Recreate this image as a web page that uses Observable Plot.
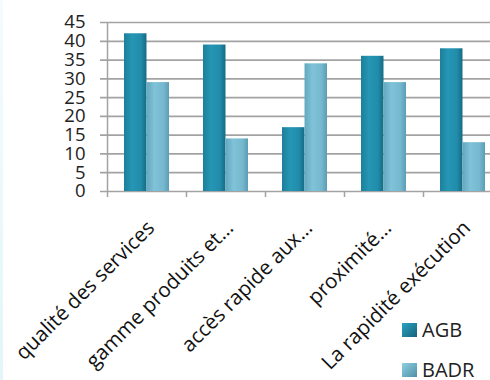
<!DOCTYPE html>
<html>
<head>
<meta charset="utf-8">
<script src="https://cdn.jsdelivr.net/npm/d3@7"></script>
<script src="https://cdn.jsdelivr.net/npm/@observablehq/plot@0.6"></script>
<style>
  html, body { margin: 0; padding: 0; background: #fff; }
  #wrap { position: relative; width: 490px; height: 380px; overflow: hidden; font-family: "Open Sans", sans-serif; }
  #wrap::before { content: ""; position: absolute; left: 0; top: 0; bottom: 0; width: 3px; background: linear-gradient(#f4fcfd, #e3f5f9); }
  .legend { position: absolute; left: 402px; font-size: 20px; line-height: 20px; height: 20px; color: #222; display: flex; align-items: center; }
  .legend span.sw { display: inline-block; width: 15px; height: 14px; margin-right: 5px; }
</style>
</head>
<body>
<div id="wrap"></div>
<script>
const categories = ["qualité des services", "gamme produits et...", "accès rapide aux...", "proximité...", "La rapidité exécution"];
const seriesNames = ["AGB", "BADR"];
const agbValues = [42, 39, 17, 36, 38];
const badrValues = [29, 14, 34, 29, 13];
const yTicks = [0, 5, 10, 15, 20, 25, 30, 35, 40, 45];

const rows = [];
categories.forEach((c, i) => {
  rows.push({cat: c, series: seriesNames[0], value: agbValues[i]});
  rows.push({cat: c, series: seriesNames[1], value: badrValues[i]});
});

const W = 490, H = 380, mL = 107, mR = -12;
const step = (W - mR - mL) / categories.length;
const pInner = 0.43;
const half = step * (1 - pInner) / 2;

const chart = Plot.plot({
  width: W, height: H,
  marginLeft: mL, marginRight: mR, marginTop: 22, marginBottom: 189,
  style: {fontFamily: "'Open Sans', sans-serif", background: "transparent", overflow: "visible"},
  x: {domain: categories, paddingInner: pInner, paddingOuter: pInner / 2, label: null},
  y: {domain: [0, 45], ticks: yTicks, label: null},
  marks: [
    Plot.ruleY(yTicks, {stroke: "#a3a3a3", strokeWidth: 1.7, insetLeft: -7}),
    Plot.ruleX([categories[0]], {dx: -step / 2, stroke: "#a3a3a3", strokeWidth: 1.5}),
    Plot.ruleX(categories, {y1: 0, y2: 0, dx: -step / 2, insetBottom: -6, stroke: "#a3a3a3", strokeWidth: 1.5}),
    Plot.barY(rows.filter(d => d.series === "AGB"), {x: "cat", y: "value", fill: "url(#gAGB)", insetRight: half}),
    Plot.barY(rows.filter(d => d.series === "BADR"), {x: "cat", y: "value", fill: "url(#gBADR)", insetLeft: half}),
    Plot.axisY({ticks: yTicks, tickSize: 0, tickPadding: 22, fontSize: 18.5, fill: "#222"}),
    Plot.axisX({tickSize: 0, tickPadding: 33, dx: 4, tickRotate: -45, fontSize: 20.5, fill: "#111"})
  ]
});

const ns = "http://www.w3.org/2000/svg";
const defs = document.createElementNS(ns, "defs");
function grad(id, stops) {
  const g = document.createElementNS(ns, "linearGradient");
  g.setAttribute("id", id);
  g.setAttribute("x1", "0"); g.setAttribute("x2", "1"); g.setAttribute("y1", "0"); g.setAttribute("y2", "0");
  stops.forEach(([o, c]) => {
    const s = document.createElementNS(ns, "stop");
    s.setAttribute("offset", o); s.setAttribute("stop-color", c);
    g.appendChild(s);
  });
  defs.appendChild(g);
}
grad("gAGB", [["0", "#1d7f9b"], ["0.35", "#2596b4"], ["0.75", "#218cab"], ["1", "#166b83"]]);
grad("gBADR", [["0", "#63a8c0"], ["0.35", "#80c2d7"], ["0.75", "#76b9cf"], ["1", "#5b9db4"]]);
chart.insertBefore(defs, chart.firstChild);

const wrap = document.getElementById("wrap");
wrap.appendChild(chart);

const legendItems = [
  {name: seriesNames[0], top: 320, color: "linear-gradient(135deg,#2aa3c2,#15637a)"},
  {name: seriesNames[1], top: 360, color: "linear-gradient(135deg,#8fd0e3,#4f8fa6)"}
];
legendItems.forEach(it => {
  const d = document.createElement("div");
  d.className = "legend";
  d.style.top = it.top + "px";
  d.innerHTML = `<span class="sw" style="background:${it.color}"></span>${it.name}`;
  wrap.appendChild(d);
});
</script>
</body>
</html>
